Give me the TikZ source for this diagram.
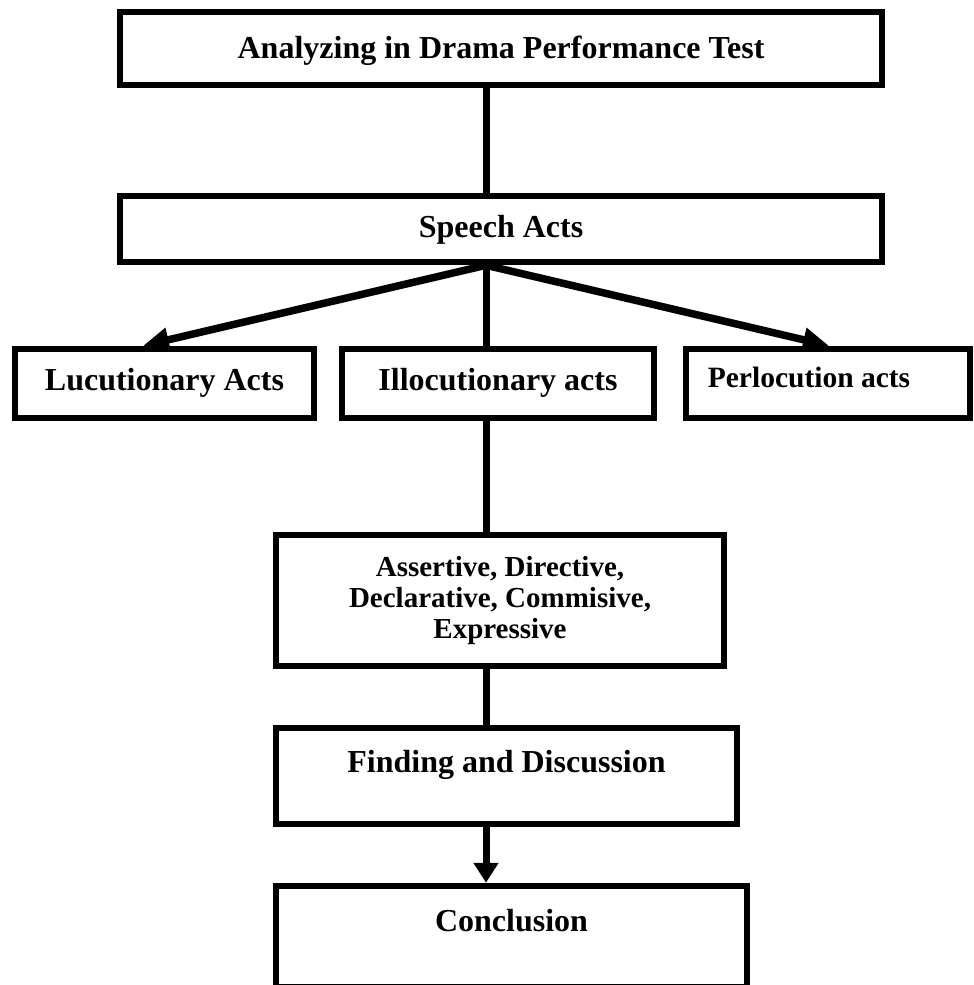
\documentclass[tikz,border=0pt]{standalone}
\usepackage{fontspec}
\setmainfont{Liberation Serif}
\usetikzlibrary{arrows.meta}
\begin{document}
\begin{tikzpicture}[x=1pt,y=-1pt,
  box/.style={draw, line width=6.5pt, rectangle, inner sep=0pt,
    font=\bfseries\fontsize{32}{36}\selectfont},
  conn/.style={line width=7pt},
  diagarrow/.style={line width=7.5pt, -{Triangle[length=26pt,width=23pt]}},
  downarrow/.style={line width=7pt, -{Triangle[length=20pt,width=24pt]}}]
\useasboundingbox (0,0) rectangle (974,985);
\coordinate (cx) at (486,0);
\coordinate (tl) at (143,0);
\coordinate (tr) at (829,0);

\node[box, minimum width=762pt, text height=46pt, text depth=27pt] (top) at (501,48.5) {Analyzing in Drama Performance Test};
\node[box, minimum width=762pt, text height=41pt, text depth=25pt] (speech) at (501,229) {Speech Acts};
\node[box, minimum width=299pt, text height=41pt, text depth=28pt] (luc) at (164.5,383.5) {Lucutionary Acts};
\node[box, minimum width=312pt, text height=41pt, text depth=28pt] (ill) at (498,383.5) {Illocutionary acts};
\node[box, minimum width=284pt, text height=38pt, text depth=31pt, font=\bfseries\fontsize{29.5}{34}\selectfont] (per) at (828,383.5) {Perlocution acts\hspace*{38pt}\mbox{}};
\node[box, minimum width=448pt, minimum height=131pt, align=center, font=\bfseries\fontsize{29}{31}\selectfont] (types) at (500,600.5) {Assertive, Directive,\\Declarative, Commisive,\\Expressive};
\node[box, minimum width=461pt, text height=44pt, text depth=52pt] (find) at (506.5,776) {Finding and Discussion};
\node[box, minimum width=471pt, text height=45pt, text depth=56pt] (concl) at (511.5,936.5) {Conclusion};

\draw[conn] (top.south -| cx) -- (speech.north -| cx);
\draw[diagarrow] (speech.south -| cx) -- (luc.north -| tl);
\draw[diagarrow] (speech.south -| cx) -- (per.north -| tr);
\draw[conn] (speech.south -| cx) -- (ill.north -| cx);
\draw[conn] (ill.south -| cx) -- (types.north -| cx);
\draw[conn] (types.south -| cx) -- (find.north -| cx);
\draw[downarrow] (find.south -| cx) -- (concl.north -| cx);
\end{tikzpicture}
\end{document}
